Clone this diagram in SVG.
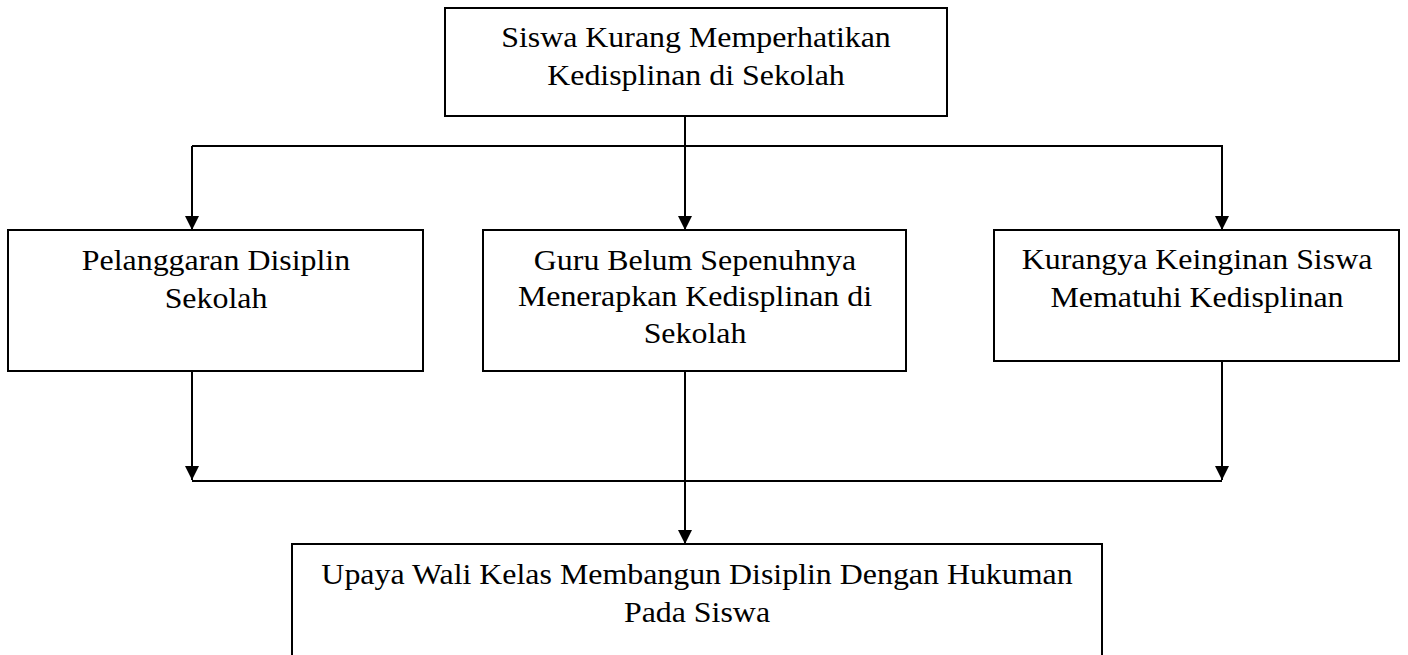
<svg xmlns="http://www.w3.org/2000/svg" width="1408" height="655" viewBox="0 0 1408 655">
<defs>
<style>
.box{fill:#fff;stroke:#000;stroke-width:2}
.t{font-family:"Liberation Serif","Times New Roman",serif;font-size:29px;fill:#000;text-anchor:middle}
.c{fill:none;stroke:#000;stroke-width:2}
</style>
<marker id="ah" viewBox="0 0 14 14" refX="14" refY="7" markerWidth="14" markerHeight="14" markerUnits="userSpaceOnUse" orient="auto">
<path d="M0,0 L14,7 L0,14 Z" fill="#000"/>
</marker>
</defs>
<rect width="1408" height="655" fill="#fff"/>
<g id="connectors">
<line class="c" x1="685" y1="116" x2="685" y2="230" marker-end="url(#ah)"/>
<polyline class="c" points="192,146 1222,146 1222,230" marker-end="url(#ah)"/>
<line class="c" x1="192" y1="146" x2="192" y2="230" marker-end="url(#ah)"/>
<line class="c" x1="192" y1="371" x2="192" y2="480" marker-end="url(#ah)"/>
<line class="c" x1="1222" y1="361" x2="1222" y2="480" marker-end="url(#ah)"/>
<line class="c" x1="192" y1="481" x2="1222" y2="481"/>
<line class="c" x1="685" y1="371" x2="685" y2="544" marker-end="url(#ah)"/>
</g>
<g id="top">
<rect class="box" x="445" y="8" width="502" height="108"/>
<g transform="matrix(1.1,0,0,1,-69.6,0)">
<text class="t" x="696" y="47">Siswa Kurang Memperhatikan</text>
<text class="t" x="696" y="85">Kedisplinan di Sekolah</text>
</g>
</g>
<g id="left">
<rect class="box" x="8" y="230" width="415" height="141"/>
<g transform="matrix(1.1,0,0,1,-21.6,0)">
<text class="t" x="216" y="270">Pelanggaran Disiplin</text>
<text class="t" x="216" y="308">Sekolah</text>
</g>
</g>
<g id="middle">
<rect class="box" x="483" y="230" width="423" height="141"/>
<g transform="matrix(1.1,0,0,1,-69.5,0)">
<text class="t" x="695" y="270">Guru Belum Sepenuhnya</text>
<text class="t" x="695" y="306">Menerapkan Kedisplinan di</text>
<text class="t" x="695" y="343">Sekolah</text>
</g>
</g>
<g id="right">
<rect class="box" x="994" y="230" width="405" height="131"/>
<g transform="matrix(1.1,0,0,1,-119.7,0)">
<text class="t" x="1197" y="269">Kurangya Keinginan Siswa</text>
<text class="t" x="1197" y="307">Mematuhi Kedisplinan</text>
</g>
</g>
<g id="bottom">
<rect class="box" x="292" y="544" width="810" height="130"/>
<g transform="matrix(1.1,0,0,1,-69.7,0)">
<text class="t" x="697" y="584">Upaya Wali Kelas Membangun Disiplin Dengan Hukuman</text>
<text class="t" x="697" y="622">Pada Siswa</text>
</g>
</g>
</svg>
